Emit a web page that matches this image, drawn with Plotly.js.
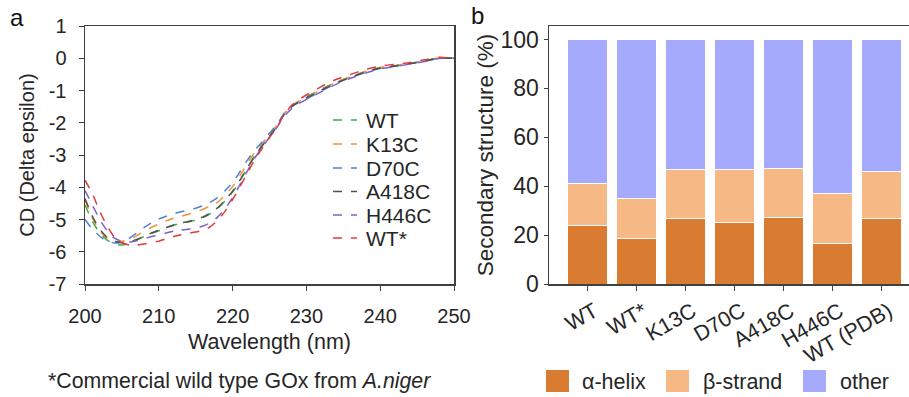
<!DOCTYPE html>
<html>
<head>
<meta charset="utf-8">
<script src="https://cdn.plot.ly/plotly-3.0.1.min.js"></script>
<style>html,body{margin:0;padding:0;background:#fff;}#chart{width:909px;height:397px;}</style>
</head>
<body>
<div id="chart"></div>
<script>
// ---- Panel a: CD spectra ----
const wavelength = [200,201,202,203,204,205,206,207,208,209,210,211,212,213,214,215,216,217,218,219,220,221,222,223,224,225,226,227,228,229,230,232,234,236,238,240,242,244,246,248,250];
const cdWT    = [-4.55,-5.05,-5.42,-5.64,-5.76,-5.79,-5.74,-5.64,-5.53,-5.43,-5.35,-5.26,-5.18,-5.12,-5.08,-5.02,-4.94,-4.82,-4.65,-4.42,-4.15,-3.80,-3.40,-3.02,-2.70,-2.40,-2.10,-1.70,-1.48,-1.33,-1.20,-0.96,-0.74,-0.57,-0.41,-0.29,-0.23,-0.16,-0.08,0.01,0.00];
const cdK13C  = [-4.40,-4.95,-5.35,-5.58,-5.68,-5.68,-5.62,-5.50,-5.37,-5.24,-5.14,-5.04,-4.96,-4.90,-4.84,-4.77,-4.68,-4.58,-4.46,-4.24,-3.98,-3.64,-3.26,-2.92,-2.64,-2.36,-2.08,-1.72,-1.48,-1.34,-1.22,-0.98,-0.75,-0.57,-0.41,-0.29,-0.23,-0.16,-0.08,0.01,0.00];
const cdD70C  = [-5.00,-5.30,-5.52,-5.68,-5.73,-5.70,-5.58,-5.42,-5.25,-5.10,-4.98,-4.90,-4.82,-4.76,-4.71,-4.65,-4.57,-4.46,-4.32,-4.10,-3.86,-3.52,-3.16,-2.85,-2.60,-2.32,-2.05,-1.72,-1.50,-1.36,-1.26,-1.02,-0.78,-0.60,-0.44,-0.31,-0.25,-0.17,-0.09,0.00,0.00];
const cdA418C = [-4.35,-4.90,-5.30,-5.55,-5.68,-5.72,-5.70,-5.62,-5.52,-5.42,-5.33,-5.25,-5.17,-5.11,-5.06,-5.00,-4.92,-4.80,-4.63,-4.40,-4.12,-3.78,-3.40,-3.04,-2.72,-2.42,-2.12,-1.74,-1.50,-1.35,-1.23,-0.99,-0.77,-0.59,-0.43,-0.31,-0.24,-0.17,-0.09,0.00,0.00];
const cdH446C = [-4.10,-4.55,-5.00,-5.35,-5.58,-5.68,-5.70,-5.66,-5.60,-5.53,-5.48,-5.42,-5.36,-5.33,-5.30,-5.26,-5.20,-5.10,-4.92,-4.66,-4.32,-3.92,-3.50,-3.10,-2.76,-2.45,-2.15,-1.80,-1.56,-1.40,-1.28,-1.04,-0.81,-0.62,-0.46,-0.33,-0.26,-0.18,-0.10,-0.01,0.00];
const cdWTs   = [-3.78,-4.20,-4.75,-5.20,-5.55,-5.72,-5.79,-5.79,-5.76,-5.72,-5.67,-5.60,-5.53,-5.47,-5.43,-5.39,-5.33,-5.22,-5.02,-4.74,-4.38,-3.98,-3.56,-3.15,-2.80,-2.46,-2.14,-1.74,-1.46,-1.28,-1.14,-0.88,-0.66,-0.50,-0.35,-0.24,-0.19,-0.13,-0.05,0.03,0.00];
const cdNames  = ["WT","K13C","D70C","A418C","H446C","WT*"];
const cdSeries = [cdWT, cdK13C, cdD70C, cdA418C, cdH446C, cdWTs];
const cdColors = ["#45a852","#f0923a","#4f82d4","#505050","#7e62c8","#e23a3c"];
const cdTicksX = [200,210,220,230,240,250];
const cdTicksY = [1,0,-1,-2,-3,-4,-5,-6,-7];

// ---- Panel b: secondary structure ----
const variants = ["WT","WT*","K13C","D70C","A418C","H446C","WT (PDB)"];
const helix  = [24.0,18.5,26.6,25.0,27.3,16.4,26.6];
const strand = [17.1,16.5,20.2,21.8,20.1,20.6,19.5];
const other  = [58.9,65.0,53.2,53.2,52.6,63.0,53.9];
const ssNames  = ["α-helix","β-strand","other"];
const ssColors = ["#d97b31","#f6b985","#a5aafd"];
const ssTicksY = [0,20,40,60,80,100];

const FONT = "Arial, 'Liberation Sans', sans-serif";
const TXT = "#262626";
const AX = "#404040";

const traces = [];
cdSeries.forEach((s,i)=>{
  traces.push({type:"scatter",mode:"lines",x:wavelength,y:s,name:cdNames[i],
    line:{color:cdColors[i],width:1.5,dash:"dash",shape:"spline",smoothing:0.6},
    xaxis:"x",yaxis:"y",showlegend:false});
});
[helix,strand,other].forEach((s,i)=>{
  traces.push({type:"bar",x:variants,y:s,name:ssNames[i],
    marker:{color:ssColors[i],line:{color:"#ffffff",width:1}},
    xaxis:"x2",yaxis:"y2",showlegend:false});
});

const H = 397, mt = 26, mb = 113, ph = H-mt-mb;
const py = px => (H-mb-px)/ph;   // pixel row -> paper y
const pxx = px => px/909;

const shapes = [], annotations = [];
// legend for panel a (drawn manually for tight spacing)
const lgRows = [120,144,168,191.5,215,238];
cdNames.forEach((n,i)=>{
  shapes.push({type:"line",xref:"paper",yref:"paper",x0:pxx(333),x1:pxx(357),y0:py(lgRows[i]),y1:py(lgRows[i]),
    line:{color:cdColors[i],width:1.5,dash:"dash"}});
  annotations.push({xref:"paper",yref:"paper",x:pxx(364),y:py(lgRows[i]),xanchor:"left",yanchor:"middle",
    text:n,showarrow:false,font:{family:FONT,size:21,color:TXT}});
});
// legend for panel b
const swX = [546,666,803], txX = [580,701,838];
ssNames.forEach((n,i)=>{
  shapes.push({type:"rect",xref:"paper",yref:"paper",x0:pxx(swX[i]),x1:pxx(swX[i]+23),y0:py(392),y1:py(370),
    fillcolor:ssColors[i],line:{width:0}});
  annotations.push({xref:"paper",yref:"paper",x:pxx(txX[i]),y:py(381.5),xanchor:"left",yanchor:"middle",
    text:n,showarrow:false,font:{family:FONT,size:21.5,color:TXT}});
});
annotations.push({xref:"paper",yref:"paper",x:pxx(240),y:py(381),xanchor:"center",yanchor:"middle",
  text:"*Commercial wild type GOx from <i>A.niger</i>",showarrow:false,font:{family:FONT,size:21.3,color:TXT}});
annotations.push({xref:"paper",yref:"paper",x:pxx(17),y:py(18),xanchor:"center",yanchor:"middle",
  text:"a",showarrow:false,font:{family:FONT,size:24,color:"#111"}});
annotations.push({xref:"paper",yref:"paper",x:pxx(477),y:py(16),xanchor:"center",yanchor:"middle",
  text:"b",showarrow:false,font:{family:FONT,size:24,color:"#111"}});

const layout = {
  width:909,height:397,
  margin:{l:0,r:0,t:mt,b:mb,pad:0},
  paper_bgcolor:"#fff",plot_bgcolor:"#fff",
  font:{family:FONT,size:20,color:TXT},
  showlegend:false,
  barmode:"stack",bargap:0.18,
  xaxis:{domain:[pxx(85),pxx(454)],range:[200,250],tickvals:cdTicksX,ticktext:cdTicksX.map(String),
    showline:true,linecolor:AX,linewidth:1.5,mirror:true,ticks:"outside",ticklen:5,tickcolor:AX,
    showgrid:false,zeroline:false,ticklabelstandoff:8,tickfont:{size:20},
    title:{text:"Wavelength (nm)",font:{size:21.5},standoff:8}},
  yaxis:{domain:[0,1],range:[-7,1],tickvals:cdTicksY,ticktext:cdTicksY.map(String),
    showline:true,linecolor:AX,linewidth:1.5,mirror:true,ticks:"outside",ticklen:5,tickcolor:AX,
    showgrid:false,zeroline:false,ticklabelstandoff:8,tickfont:{size:20},
    title:{text:"CD (Delta epsilon)",font:{size:20},standoff:8}},
  xaxis2:{domain:[pxx(549),1],range:[-0.78,6.56],type:"category",
    showline:true,linecolor:AX,linewidth:1.5,mirror:true,ticks:"outside",ticklen:5,tickcolor:AX,
    showgrid:false,zeroline:false,tickangle:-30,ticklabelstandoff:0,ticklabelshift:7,tickfont:{size:21.5},anchor:"y2"},
  yaxis2:{domain:[0,1],range:[0,105.5],tickvals:ssTicksY,ticktext:ssTicksY.map(String),anchor:"x2",
    showline:true,linecolor:AX,linewidth:1.5,ticks:"outside",ticklen:4,tickcolor:AX,
    showgrid:false,zeroline:false,tickfont:{size:23},
    title:{text:"Secondary structure (%)",font:{size:22.5},standoff:0}},
  shapes:shapes,annotations:annotations
};
Plotly.newPlot("chart",traces,layout,{displayModeBar:false,staticPlot:true});
</script>
</body>
</html>
